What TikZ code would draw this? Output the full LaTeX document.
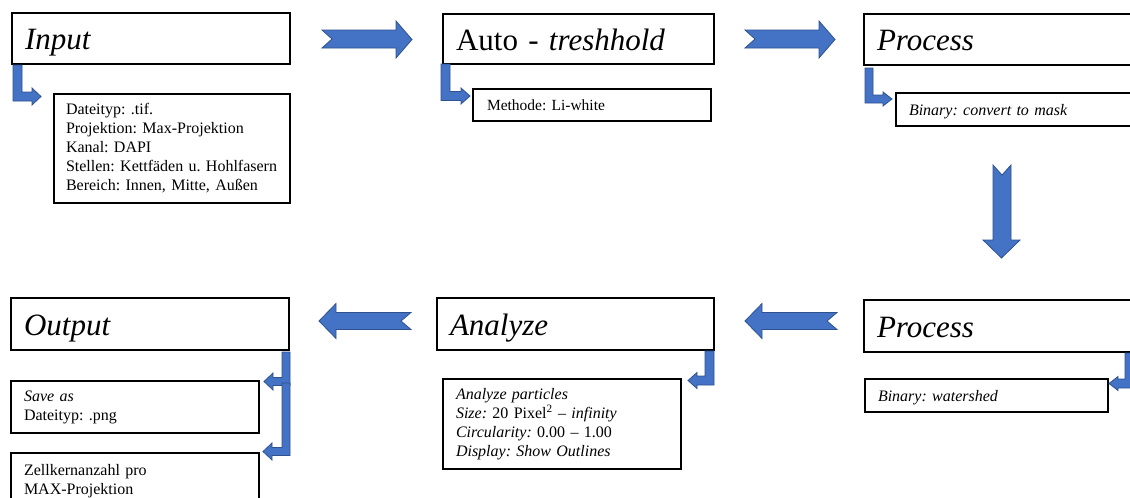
\documentclass[tikz,border=0pt]{standalone}
\usepackage{fontspec}
\setmainfont{Liberation Serif}[ItalicFont={Liberation Serif Italic}]
\frenchspacing
\definecolor{arrowblue}{HTML}{4472C4}
\definecolor{arrowedge}{HTML}{2F528F}
\tikzset{
  box/.style={draw=black, line width=2pt, anchor=north west, align=left,
    inner xsep=13pt, inner ysep=0pt, font=\fontsize{16}{19}\selectfont},
  titlebox/.style={box, font=\fontsize{31}{37}\selectfont, text height=24pt, text depth=2pt},
  blockarrow/.style={fill=arrowblue, draw=arrowedge, line width=0.8pt, line join=miter},
}
\begin{document}
\begin{tikzpicture}[x=1pt,y=-1pt]
\useasboundingbox (0,0) rectangle (1130,498);
\fill[white] (0,0) rectangle (1130,498);
\clip (0,0) rectangle (1130,498);

% title boxes
\node[titlebox, text width=252pt, minimum height=51pt] (input) at (11,12) {\textit{Input}};
\node[titlebox, text width=245pt, minimum height=50pt] (auto) at (442,13) {Auto - \textit{treshhold}};
\node[titlebox, text width=264pt, minimum height=51pt] (proc1) at (863,13) {\textit{Process}};
\node[titlebox, text width=252pt, minimum height=52pt] (output) at (10,297) {\textit{Output}};
\node[titlebox, text width=251pt, minimum height=52pt] (analyze) at (436,297) {\textit{Analyze}};
\node[titlebox, text width=264pt, minimum height=52pt] (proc2) at (863,299) {\textit{Process}};

% detail boxes
\node[box, inner xsep=12pt, text width=212pt, minimum height=109pt] (inputd) at (53,93)
  {Dateityp: .tif.\\Projektion: Max-Projektion\\Kanal: DAPI\\Stellen: Kettfäden u. Hohlfasern\\Bereich: Innen, Mitte, Außen};
\node[box, inner xsep=14pt, text width=210pt, minimum height=32pt, font=\fontsize{15.5}{19}\selectfont, text depth=0pt] (autod) at (472,88)
  {Methode: Li-white};
\node[box, text width=234pt, minimum height=33pt, text depth=0pt] (proc1d) at (895,92)
  {\textit{Binary: convert to mask}};
\node[box, text width=212pt, minimum height=90pt] (analyzed) at (442,378)
  {\textit{Analyze particles}\\\textit{Size:} 20 Pixel\textsuperscript{2} – \textit{infinity}\\\textit{Circularity:} 0.00 – 1.00\\\textit{Display: Show Outlines}};
\node[box, text width=217pt, minimum height=33pt, text depth=0pt] (proc2d) at (864,378)
  {\textit{Binary: watershed}};
\node[box, text width=222pt, minimum height=52pt] (saveas) at (10,380)
  {\textit{Save as}\\Dateityp: .png};
\node[box, text width=222pt, minimum height=56pt] (zellkern) at (10,452)
  {Zellkernanzahl pro\\MAX-Projektion};

% elbow arrows from titles to detail boxes
\draw[blockarrow] (13,65) -- (22,65) -- (22,92) -- (32,92) -- (32,88) -- (41,96.5) -- (32,105) -- (32,101) -- (13,101) -- cycle;
\draw[blockarrow] (441,64) -- (450,64) -- (450,91.5) -- (461,91.5) -- (461,88) -- (470,96) -- (461,104) -- (461,100.5) -- (441,100.5) -- cycle;
\draw[blockarrow] (865,68) -- (873,68) -- (873,95) -- (883,95) -- (883,92) -- (892,99) -- (883,106) -- (883,103) -- (865,103) -- cycle;
\draw[blockarrow] (714,351) -- (714,385) -- (697,385) -- (697,388.5) -- (688,380.5) -- (697,372.5) -- (697,376) -- (705,376) -- (705,351) -- cycle;
\draw[blockarrow] (1134,353) -- (1134,388) -- (1118,388) -- (1118,390.5) -- (1109,383.5) -- (1118,376.5) -- (1118,379) -- (1125,379) -- (1125,353) -- cycle;
\draw[blockarrow] (290,352) -- (290,385.5) -- (273,385.5) -- (273,390) -- (264,381.5) -- (273,373) -- (273,377.5) -- (282,377.5) -- (282,352) -- cycle;
\draw[blockarrow] (290,383) -- (290,455.5) -- (272,455.5) -- (272,460) -- (263,451.5) -- (272,443) -- (272,447.5) -- (282,447.5) -- (282,383) -- cycle;

% flow arrows
\draw[blockarrow] (322,30) -- (396,30) -- (396,21) -- (412,39.5) -- (396,58) -- (396,48) -- (322,48) -- (332,39) -- cycle;
\draw[blockarrow] (745,30) -- (819,30) -- (819,21) -- (835,39.5) -- (819,58) -- (819,48) -- (745,48) -- (755,39) -- cycle;
\draw[blockarrow] (993,165) -- (1002,175) -- (1011,165) -- (1011,240) -- (1020,240) -- (1001.5,258) -- (983,240) -- (993,240) -- cycle;
\draw[blockarrow] (837,312.5) -- (762,312.5) -- (762,303.5) -- (745,321) -- (762,338.5) -- (762,329.5) -- (837,329.5) -- (827,321) -- cycle;
\draw[blockarrow] (411,312.5) -- (336,312.5) -- (336,303.5) -- (319,321) -- (336,338.5) -- (336,329.5) -- (411,329.5) -- (401,321) -- cycle;
\end{tikzpicture}
\end{document}
